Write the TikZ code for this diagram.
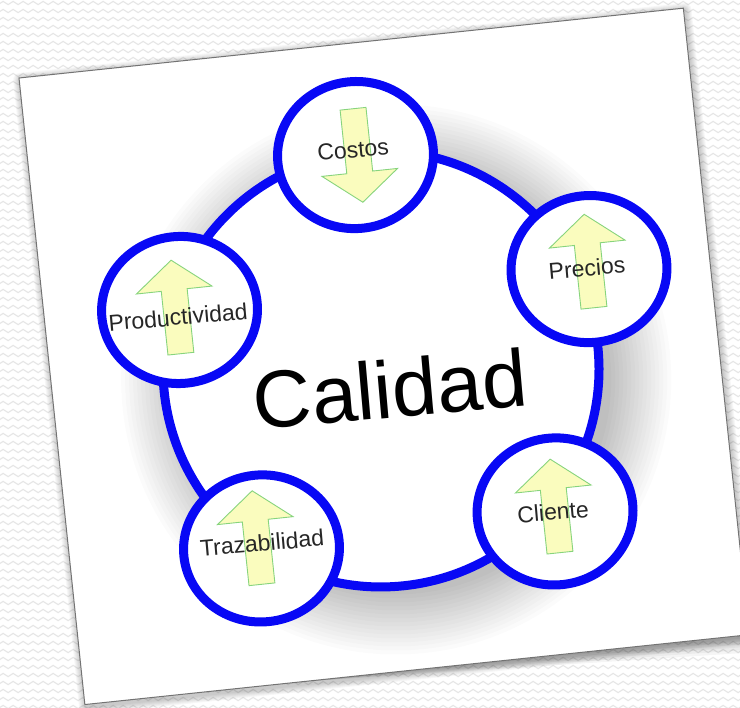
\documentclass[tikz,border=0pt]{standalone}
\usepackage{fontspec}
\setmainfont{Liberation Sans}
\usetikzlibrary{shapes.geometric,decorations.pathmorphing}
\definecolor{ringblue}{RGB}{8,8,245}
\definecolor{arwline}{RGB}{135,212,125}
\definecolor{arwfill}{RGB}{250,252,190}
\definecolor{wave}{RGB}{230,230,230}
\tikzset{
  bgwave/.style={draw=wave, line width=1.1pt, decorate, decoration={snake, segment length=10pt, amplitude=1.6pt}},
  paper/.style={fill=white, draw=black!55, line width=1pt},
  bigc/.style={circle, draw=ringblue, line width=9pt, fill=white, minimum size=436pt, inner sep=0pt},
  smallc/.style={ellipse, draw=ringblue, line width=9pt, fill=white, minimum width=156pt, minimum height=147pt, inner sep=0pt},
  arw/.style={draw=arwline, fill=arwfill, line width=0.9pt, line join=miter},
  lbl/.style={font=\fontsize{23}{28}\selectfont, text=black!85, inner sep=0pt, rotate=-1},
  title/.style={font=\fontsize{81}{90}\selectfont, text=black, inner sep=0pt, rotate=-1},
}
\begin{document}
\begin{tikzpicture}[x=1pt,y=-1pt]
\useasboundingbox (0,0) rectangle (740,708);
\clip (0,0) rectangle (740,708);
\fill[white] (0,0) rectangle (740,708);
\foreach \yy in {3,11,...,707} \draw[bgwave] (-10,\yy) -- (750,\yy);

\begin{scope}[shift={(19,78)}, rotate=6, transform shape]
  % paper shadow
  \foreach \k in {1,...,7}
    \fill[black, opacity=0.03, rounded corners=\k pt] (-\k+1,-\k+2) rectangle (668+\k+1,630+\k+3);
  \foreach \k in {1,...,6}
    \fill[black, opacity=0.04] (220,630) -- (672,630) -- (672,630+3*\k) -- cycle;
  % paper
  \path[paper] (0,0) rectangle (668,630);
  % haze around the big circle (stronger to the lower right)
  \foreach \r in {215,219,...,275}
    \fill[black, opacity=0.016] (343.6,339.2) circle (\r);
  % big circle
  \node[bigc] (calidad) at (329.6,327.2) {};
  \node[title] (tcalidad) at (336.5,348.1) {Calidad};
  % small circles
  \node[smallc] (costos) at (326.6,111.8) {};
  \node[smallc] (precios) at (546.9,249.6) {};
  \node[smallc] (product) at (135.4,247.5) {};
  \node[smallc] (traza) at (192.0,493.2) {};
  \node[smallc] (cliente) at (487.8,487.1) {};
  % arrows (down for Costos, up for the others)
  \draw[arw] (329.0,112.5) ++(0,47) -- ++(38,-30) -- ++(-25,0) -- ++(0,-64) -- ++(-26,0) -- ++(0,64) -- ++(-25,0) -- cycle;
  \foreach \ax/\ay in {547.8/241.6, 132.2/244.1, 188.7/481.9, 488.4/481.6}
    \draw[arw] (\ax,\ay) ++(0,-47) -- ++(38,30) -- ++(-25,0) -- ++(0,64) -- ++(-26,0) -- ++(0,-64) -- ++(-25,0) -- cycle;
  % labels
  \node[lbl] (lcostos) at (324.7,106.5) {Costos};
  \node[lbl] (lprecios) at (545.0,248.3) {Precios};
  \node[lbl] (lproduct) at (133.1,254.3) {Productividad};
  \node[lbl] (ltraza) at (193.1,487.8) {Trazabilidad};
  \node[lbl] (lcliente) at (485.7,487.4) {Cliente};
\end{scope}
\end{tikzpicture}
\end{document}
